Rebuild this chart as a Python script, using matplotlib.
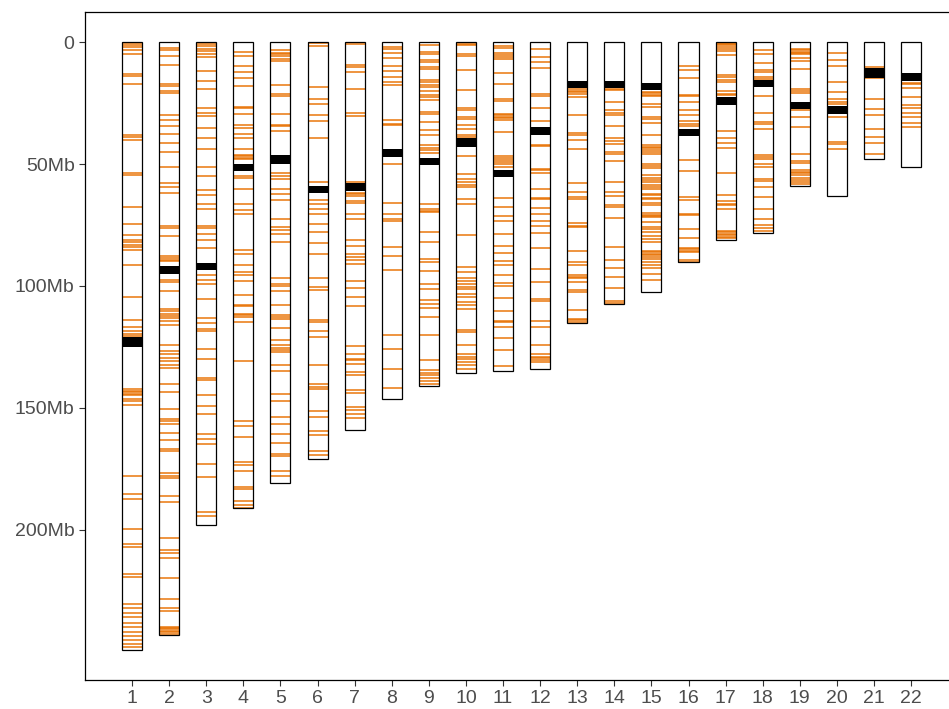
import numpy as np
import matplotlib
matplotlib.use("Agg")
import matplotlib.pyplot as plt

# chromosome sizes and centromeres (Mb)
chroms = [str(i) for i in range(1, 23)]
chr_len = [249.25, 243.2, 198.0, 191.15, 180.9, 171.1, 159.1, 146.4, 141.2, 135.5, 135.0,
           133.85, 115.2, 107.35, 102.5, 90.35, 81.2, 78.1, 59.1, 63.0, 48.1, 51.3]
cen_start = [121.0, 92.0, 90.6, 49.9, 46.4, 59.0, 57.8, 44.0, 47.5, 39.3, 52.3,
             34.7, 16.0, 16.0, 16.8, 35.5, 22.5, 15.4, 24.5, 26.2, 10.8, 12.6]
cen_end = [124.9, 95.0, 93.6, 53.0, 49.9, 62.0, 61.2, 47.0, 50.5, 43.0, 55.3,
           38.1, 19.0, 19.0, 19.8, 38.7, 25.7, 18.4, 27.5, 29.4, 14.6, 16.0]

# marker positions per chromosome (Mb)
chr1 = [0.5, 1.1, 2, 3.1, 4.9, 12.9, 13.9, 17, 38.2, 39.1, 40, 53.7, 54.6, 67.7, 74.7, 79, 81,
        81.9, 83, 84, 85.3, 91.3, 104.4, 113.8, 117, 118.6, 119.7, 120.5, 142.3, 142.9, 143.5,
        144.1, 144.6, 146.3, 147.1, 148.8, 178, 185.4, 187.4, 199.6, 205.8, 207, 218, 219.2,
        230.3, 231.9, 233.9, 235.5, 238, 240, 241.7, 243.3, 245, 246.6, 248]
chr2 = [2.4, 3.3, 5.7, 9.3, 17.1, 17.9, 20, 20.7, 29.7, 31.8, 34.6, 37.5, 41.4, 45.2, 51.2,
        57.7, 59.4, 61.8, 75.6, 76.2, 79.4, 87.9, 88.7, 89.3, 89.9, 97.7, 98.5, 101.9, 109.3,
        110.3, 111.3, 112.4, 113.2, 114.5, 116.1, 124.3, 126.8, 128, 129.5, 130.8, 132.4,
        133.7, 140.3, 143.4, 150.4, 154.5, 155.3, 156.6, 160.2, 163.1, 166.7, 167.5, 176.5,
        177.8, 178.9, 186.3, 188.4, 203.4, 208.3, 209.6, 211.5, 219.7, 228.3, 231.9, 233.1,
        239.6, 240.2, 240.8, 241.4, 242.0, 242.6]
chr3 = [0.7, 1.6, 2.7, 3.7, 4.8, 6.1, 11.9, 16.1, 19.4, 26.9, 29, 30.3, 35.2, 39.3, 44, 51.2,
        54.9, 60.5, 62.8, 66.5, 68.3, 75.5, 76.1, 78.8, 81.3, 84.4, 95.4, 97.7, 99, 105.5,
        113.1, 115, 117.5, 118.4, 125.8, 129.8, 137.7, 138.7, 144.8, 149.2, 152.3, 160.5,
        162.6, 164.6, 172.8, 178.3, 192.6, 194.2]
chr4 = [4.1, 5.7, 10, 12.3, 14.8, 18, 26.6, 27.2, 29.6, 34.2, 35.2, 37.6, 39.3, 44, 46.2, 46.7,
        47.4, 48.1, 55, 55.7, 60.4, 66.4, 68.9, 70.4, 85.1, 86.7, 91.5, 94.3, 95.4, 97.9,
        103.8, 107.7, 108.2, 111.3, 112, 112.7, 114.8, 130.7, 155.3, 157.4, 161.9, 172.1,
        173.5, 176, 182.4, 183.1, 188.3, 189.9, 191]
chr5 = [3.4, 4.4, 5.1, 5.7, 6.8, 7.8, 17.5, 21.2, 22.1, 29.6, 33.9, 34.4, 36.5, 53.7, 55.1,
        56.3, 60.4, 62.4, 64.6, 72.4, 75.8, 76.9, 78.8, 82, 96.7, 99, 100, 102.2, 107.7, 111.7,
        112.7, 113.7, 117.2, 122, 124.3, 125.3, 126.1, 127, 132.5, 134.8, 144.1, 147.1, 153.7,
        156.4, 160.8, 164.2, 169, 169.8, 176, 178]
chr6 = [0.4, 1.8, 18.4, 23.5, 25.3, 30, 32.5, 39.3, 57.4, 64.9, 66.3, 68.3, 70.4, 74.5, 77.9,
        82.4, 86.7, 96.6, 100.4, 101.8, 114.1, 114.8, 118.4, 120.9, 132.5, 140, 141.4, 142.3,
        151.4, 153.7, 159.4, 161.2, 167.8, 169.1]
chr7 = [1, 9.6, 10.2, 12.3, 19.4, 29, 30.3, 57.4, 61.8, 62.4, 63, 65.2, 66, 70.6, 72.4, 81.3,
        83.7, 87, 88.1, 89.5, 90.8, 98, 100.8, 104.5, 108.2, 124.7, 127.7, 129.8, 130.5,
        131.8, 135.2, 136.5, 142.8, 143.7, 149.6, 151, 152.3, 154.1]
chr8 = [2, 3, 4.4, 6.6, 9.8, 12, 14.3, 16.4, 17.8, 32.1, 33.5, 34.2, 49.9, 65.8, 70.4, 72.4,
        73.4, 84, 87.7, 93.3, 120.2, 125.7, 134.2, 141.7]
chr9 = [1.1, 4, 5, 7.5, 8.2, 10.2, 11.2, 15.7, 16.4, 17.5, 18.4, 20.2, 21.6, 22.5, 23.9, 28.7,
        29.6, 32.8, 36.2, 38, 42.1, 43.3, 44.4, 45.4, 66.3, 68.4, 69.1, 69.7, 77.9, 82, 88.8,
        90.2, 93.9, 99, 101.1, 105.6, 107.2, 109, 112.7, 119.9, 130.5, 134.6, 135.5, 136.6,
        137.7, 139, 140]
chr10 = [0.7, 1.4, 5, 5.7, 11.3, 19.8, 27, 28, 30.7, 31.7, 34.2, 35.8, 38.2, 38.8, 46.9, 54, 56,
         57.4, 58.7, 59.4, 64.2, 66.5, 79.2, 92.2, 94.3, 96.6, 98, 99, 100.4, 101.1, 103.1,
         104.4, 106.6, 107.7, 109.6, 118.2, 118.9, 124.3, 128, 129.1, 129.8, 131.1, 132.5, 133.9]
chr11 = [1.6, 2.3, 4.6, 5.3, 6.3, 7, 12.8, 17.1, 23.2, 24.3, 29.4, 30, 30.6, 31.1, 31.8, 36.9,
         46.7, 47.4, 48.4, 49, 50.1, 51.1, 63.8, 67.6, 71.2, 73.4, 78.8, 83.6, 86.3, 89.9, 91.3,
         95.4, 98.6, 100, 104.9, 110.4, 114.3, 114.9, 116.7, 121.3, 126.1, 133]
chr12 = [3, 6.1, 8.2, 10.8, 21.2, 22.3, 27, 32.5, 42, 42.6, 51.9, 52.5, 53.8, 60.1, 63.9, 64.5,
         68, 70.4, 73.4, 75.4, 78.3, 84.6, 92.9, 98.2, 105.5, 106.1, 114.3, 116.7, 124.3, 128,
         129, 129.6, 130.2, 131]
chr13 = [19.4, 20, 20.6, 21.3, 22.7, 30, 37.2, 38.1, 40.2, 43.9, 57.7, 61.3, 63.6, 64.2, 74.3,
         75.3, 76, 85.7, 90, 91.3, 95.6, 96.2, 96.8, 98.4, 101.6, 102.6, 109.8, 113.4, 114, 114.6]
chr14 = [19.2, 19.7, 24.5, 27.9, 29.2, 29.9, 34.4, 39.3, 40.7, 41.7, 44.9, 46, 48.9, 57.4, 61.5,
         63.3, 66.7, 67.6, 72.3, 84.2, 89.3, 92.8, 96.2, 100.7, 106, 106.8]
chr15 = [20.4, 21, 21.6, 22.3, 25.3, 26.6, 30.7, 31.4, 33, 38.3, 42.4, 43, 43.6, 44.1, 45, 46,
         49.9, 50.8, 51.6, 54.6, 55.7, 56.4, 57.4, 58.7, 59.4, 60.4, 62.2, 62.8, 63.8, 64.5, 66,
         66.7, 70.1, 70.7, 71.3, 71.9, 73.8, 75.8, 76.8, 77.9, 79.6, 80.6, 82, 85.5, 86.1, 86.7,
         87.3, 88.1, 89, 90.2, 91.3, 92.5, 94.9, 97.4]
chr16 = [10, 11.3, 14.8, 21.6, 22.2, 24.6, 28, 30, 32.5, 33.5, 34.4, 48.4, 53, 63.5, 64.9, 70.5,
         71.1, 76.8, 80.3, 84.4, 85, 85.6, 86.2, 89.5, 90]
chr17 = [0.3, 0.8, 1.2, 2, 3, 3.8, 5.5, 13.7, 14.3, 15.4, 16.4, 20.2, 21.2, 21.9, 36.6, 39.3,
         41.3, 43.3, 53.6, 62.8, 65.3, 66.3, 66.9, 68.3, 77.3, 77.9, 78.5, 79.1, 79.8, 80.5]
chr18 = [3.4, 4.8, 8.5, 11.6, 12.3, 14.4, 15, 22.1, 29, 32.8, 33.5, 35.8, 46.2, 47.1, 48.1, 50.1,
         51.1, 56, 57, 59.4, 63.5, 68.6, 72.5, 75, 76.2, 77.3]
chr19 = [2.7, 3.3, 3.9, 4.5, 5.1, 6.7, 7.8, 11.2, 19.3, 20.2, 21, 27.9, 30.9, 34.7, 46, 48.6,
         49.7, 52.5, 53.3, 53.8, 54.5, 55.6, 56.6, 57.5, 58.3]
chr20 = [4.6, 7.2, 9.8, 16.4, 20.5, 23.2, 24.6, 25.5, 30.6, 40.8, 41.8, 44]
chr21 = [10.4, 14.9, 23.4, 27.6, 30, 35.5, 38.9, 41.4, 45.9]
chr22 = [16.8, 17.3, 18.7, 22.5, 26, 27.2, 29, 30.6, 33.3, 34.7]

markers = [chr1, chr2, chr3, chr4, chr5, chr6, chr7, chr8, chr9, chr10, chr11, chr12,
           chr13, chr14, chr15, chr16, chr17, chr18, chr19, chr20, chr21, chr22]

y_ticks = [0, 50, 100, 150, 200]
y_labels = ["0", "50Mb", "100Mb", "150Mb", "200Mb"]

plt.rcParams['font.family'] = ['Liberation Sans', 'DejaVu Sans']

fig = plt.figure(figsize=(9.49, 7.09), dpi=100)
ax = fig.add_axes([0.0896, 0.041, 0.92, 0.942])

x = np.arange(1, len(chroms) + 1)
w = 0.54

# chromosome bodies
ax.bar(x, chr_len, bottom=0, width=w, color="white", edgecolor="none", zorder=1)
for i, pos in enumerate(markers):
    ax.hlines(pos, x[i] - w / 2, x[i] + w / 2, color="#E87000", alpha=0.75, lw=1.4, zorder=2)
ax.bar(x, np.array(cen_end) - np.array(cen_start), bottom=cen_start, width=w,
       color="black", edgecolor="none", zorder=3)
ax.bar(x, chr_len, bottom=0, width=w, fill=False, edgecolor="black", lw=0.9, zorder=4)

ax.set_xlim(-0.267, 23.267)
ax.set_ylim(261.5, -12.3)
ax.set_xticks(x)
ax.set_xticklabels(chroms)
ax.set_yticks(y_ticks)
ax.set_yticklabels(y_labels)
ax.tick_params(axis="both", labelsize=14, labelcolor="#4D4D4D", color="#333333",
               length=4, width=0.8)
for s in ["left", "bottom", "top"]:
    ax.spines[s].set_linewidth(0.9)
ax.spines["right"].set_visible(False)

fig.savefig("out.png", dpi=100)
